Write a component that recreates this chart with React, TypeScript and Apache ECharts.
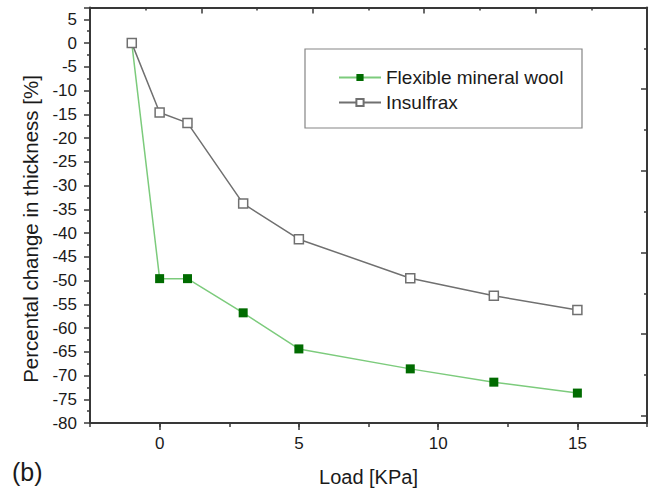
import React, { useEffect, useRef } from "react";
import * as echarts from "echarts";

const loads = [-1, 0, 1, 3, 5, 9, 12, 15];
const flexibleMineralWool = [0, -49.6, -49.6, -56.8, -64.4, -68.6, -71.4, -73.7];
const insulfrax = [0, -14.6, -16.8, -33.8, -41.3, -49.5, -53.2, -56.2];
const xLabelValues = [0, 5, 10, 15];

const FONT = "'Liberation Sans', Arial, Helvetica, sans-serif";
const AXIS = "#383838";
const TEXT = "#1a1a1a";

export default function App() {
  const ref = useRef<HTMLDivElement>(null);
  useEffect(() => {
    if (!ref.current) return;
    const chart = echarts.init(ref.current, undefined, { renderer: "svg" });
    const pair = (ys: number[]) => loads.map((x, i) => [x, ys[i]]);
    chart.setOption({
      animation: false,
      textStyle: { fontFamily: FONT },
      grid: { left: 90, right: 11, top: 7.5, bottom: 73 },
      legend: {
        orient: "vertical",
        left: 333,
        top: 63,
        itemWidth: 42,
        itemHeight: 9,
        itemGap: 6,
        textStyle: { fontSize: 19, color: TEXT, fontFamily: FONT },
        data: ["Flexible mineral wool", "Insulfrax"],
      },
      xAxis: [
        {
          type: "value",
          position: "bottom",
          min: -2.5,
          max: 17.5,
          interval: 2.5,
          splitLine: { show: false },
          axisLine: { show: true, onZero: false, lineStyle: { color: AXIS, width: 2 } },
          axisTick: { show: true, inside: false, length: 4, lineStyle: { color: AXIS, width: 1.5 } },
          axisLabel: {
            fontSize: 17,
            color: TEXT,
            margin: 12,
            fontFamily: FONT,
            formatter: (v: number) => (xLabelValues.includes(v) ? String(v) : ""),
          },
          name: "Load [KPa]",
          nameLocation: "middle",
          nameGap: 44,
          nameTextStyle: { fontSize: 20, color: TEXT, fontFamily: FONT },
        },
        {
          type: "value",
          position: "bottom",
          min: -2.5,
          max: 17.5,
          splitLine: { show: false },
          axisLine: { show: false, onZero: false },
          axisTick: { show: true, inside: false, length: 7, customValues: xLabelValues, lineStyle: { color: AXIS, width: 1.5 } },
          axisLabel: { show: false },
        },
        {
          type: "value",
          position: "top",
          min: 0,
          max: 20,
          interval: 4,
          splitLine: { show: false },
          axisLine: { show: true, onZero: false, lineStyle: { color: AXIS, width: 2 } },
          axisTick: { show: true, inside: true, length: 6, lineStyle: { color: AXIS, width: 1.5 } },
          minorTick: { show: true, splitNumber: 2, length: 3, lineStyle: { color: AXIS, width: 1.5 } },
          axisLabel: { show: false },
        },
      ],
      yAxis: [
        {
          type: "value",
          position: "left",
          min: -80,
          max: 7.5,
          interval: 5,
          splitLine: { show: false },
          axisLine: { show: true, onZero: false, lineStyle: { color: AXIS, width: 2 } },
          axisTick: { show: true, inside: false, length: 6, lineStyle: { color: AXIS, width: 1.5 } },
          minorTick: { show: true, splitNumber: 2, length: 3, lineStyle: { color: AXIS, width: 1.5 } },
          axisLabel: {
            fontSize: 17,
            color: TEXT,
            margin: 13,
            fontFamily: FONT,
            formatter: (v: number) => (v % 5 === 0 && v <= 5 ? String(v) : ""),
          },
        },
        {
          type: "value",
          position: "right",
          inverse: true,
          min: 0,
          max: 87.5,
          interval: 17.2,
          splitLine: { show: false },
          axisLine: { show: true, onZero: false, lineStyle: { color: AXIS, width: 2 } },
          axisTick: { show: true, inside: true, length: 6, lineStyle: { color: AXIS, width: 1.5 } },
          minorTick: { show: true, splitNumber: 2, length: 3, lineStyle: { color: AXIS, width: 1.5 } },
          axisLabel: { show: false },
        },
      ],
      graphic: [
        {
          type: "rect",
          shape: { x: 305, y: 49, width: 277, height: 79 },
          style: { fill: "#ffffff", stroke: "#858585", lineWidth: 1.2 },
          z: 0,
          silent: true,
        },
        {
          type: "text",
          x: 30,
          y: 229,
          rotation: Math.PI / 2,
          style: {
            text: "Percental change in thickness [%]",
            fontSize: 20.5,
            fontFamily: FONT,
            fill: TEXT,
            textAlign: "center",
            textVerticalAlign: "middle",
          },
        },
        {
          type: "text",
          x: 12,
          y: 472,
          style: {
            text: "(b)",
            fontSize: 25,
            fontFamily: FONT,
            fill: TEXT,
            textAlign: "left",
            textVerticalAlign: "middle",
          },
        },
      ],
      series: [
        {
          name: "Flexible mineral wool",
          type: "line",
          xAxisIndex: 0,
          yAxisIndex: 0,
          data: pair(flexibleMineralWool),
          symbol: "rect",
          symbolSize: 9,
          showAllSymbol: true,
          itemStyle: { color: "#006b00" },
          lineStyle: { color: "#7ccb7c", width: 1.5 },
          z: 3,
        },
        {
          name: "Insulfrax",
          type: "line",
          xAxisIndex: 0,
          yAxisIndex: 0,
          data: pair(insulfrax),
          symbol: "rect",
          symbolSize: 9,
          showAllSymbol: true,
          itemStyle: { color: "#ffffff", borderColor: "#707070", borderWidth: 1.5 },
          lineStyle: { color: "#707070", width: 1.5 },
          z: 4,
        },
      ],
    });
    return () => chart.dispose();
  }, []);
  return <div ref={ref} style={{ width: 658, height: 496, position: "absolute", left: 0, top: 0 }} />;
}
